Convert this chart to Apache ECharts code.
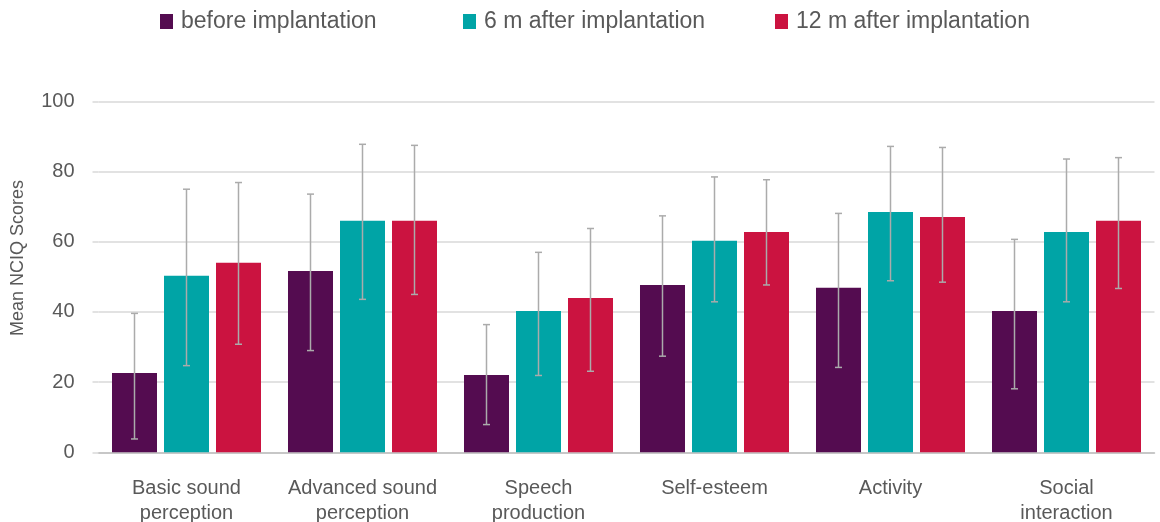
<!DOCTYPE html>
<html>
<head>
<meta charset="utf-8">
<script src="https://cdn.jsdelivr.net/npm/echarts@6/dist/echarts.min.js"></script>
<style>
  html, body { margin: 0; padding: 0; background: #fff; }
  #chart { width: 1160px; height: 522px; }
</style>
</head>
<body>
<div id="chart"></div>
<script>
// NCIQ domains
const categories = [
  'Basic sound\nperception',
  'Advanced sound\nperception',
  'Speech\nproduction',
  'Self-esteem',
  'Activity',
  'Social\ninteraction'
];
const seriesNames = ['before implantation', '6 m after implantation', '12 m after implantation'];
const seriesColors = ['#540C50', '#00A4A6', '#CB1340'];

// Mean scores
const before = [22.6, 51.7, 22.0, 47.7, 46.9, 40.3];
const after6 = [50.3, 66.0, 40.3, 60.3, 68.5, 62.8];
const after12 = [54.0, 66.0, 44.0, 62.8, 67.1, 66.0];

// Error bar bounds (lower / upper)
const beforeLow = [3.8, 29.0, 7.9, 27.4, 24.2, 18.1];
const beforeHigh = [39.6, 73.6, 36.4, 67.4, 68.1, 60.7];
const after6Low = [24.7, 43.6, 21.9, 42.9, 48.9, 42.9];
const after6High = [75.0, 87.8, 57.0, 78.5, 87.2, 83.6];
const after12Low = [30.8, 45.0, 23.1, 47.7, 48.5, 46.7];
const after12High = [76.9, 87.5, 63.8, 77.7, 86.9, 84.0];

// Y axis ticks
const yTicks = [0, 20, 40, 60, 80, 100];

const BAR_W = 45;
const BAR_GAP = 7;
const TEXT = '#595959';
const FONT = 'Liberation Sans, Arial, sans-serif';

const means = [before, after6, after12];
const lows = [beforeLow, after6Low, after12Low];
const highs = [beforeHigh, after6High, after12High];

const barSeries = means.map((vals, i) => ({
  name: seriesNames[i],
  type: 'bar',
  data: vals,
  barWidth: BAR_W,
  barGap: (BAR_GAP / BAR_W * 100).toFixed(2) + '%',
  itemStyle: { color: seriesColors[i] },
  z: 2
}));

const errSeries = means.map((vals, i) => ({
  name: seriesNames[i] + ' sd',
  type: 'custom',
  z: 5,
  silent: true,
  data: vals.map((v, j) => [j, lows[i][j], highs[i][j]]),
  renderItem: function (params, api) {
    const off = (i - 1) * (BAR_W + BAR_GAP);
    const lo = api.coord([api.value(0), api.value(1)]);
    const hi = api.coord([api.value(0), api.value(2)]);
    const x = lo[0] + off;
    const cap = 3.5;
    const style = { stroke: '#ABABAB', lineWidth: 1.5, fill: null };
    return {
      type: 'group',
      children: [
        { type: 'line', shape: { x1: x, y1: lo[1], x2: x, y2: hi[1] }, style: style },
        { type: 'line', shape: { x1: x - cap, y1: lo[1], x2: x + cap, y2: lo[1] }, style: style },
        { type: 'line', shape: { x1: x - cap, y1: hi[1], x2: x + cap, y2: hi[1] }, style: style }
      ]
    };
  }
}));

const legendLefts = [160, 463, 775];
const legends = seriesNames.map((n, i) => ({
  data: [n],
  left: legendLefts[i],
  top: 10,
  padding: 0,
  itemWidth: 13,
  itemHeight: 15,
  itemGap: 8,
  icon: 'rect',
  textStyle: { color: TEXT, fontSize: 23, fontFamily: FONT, padding: [0, 0, 0, 3] },
  selectedMode: false
}));

const chart = echarts.init(document.getElementById('chart'), null, { renderer: 'canvas' });
chart.setOption({
  animation: false,
  legend: legends,
  grid: {
    left: 98.5, right: 5.5, top: 101.5, bottom: 69.7,
    containLabel: false,
    outerBoundsMode: 'none'
  },
  graphic: [{
    type: 'text',
    left: 9,
    top: 180,
    rotation: Math.PI / 2,
    style: {
      text: 'Mean NCIQ Scores',
      fill: TEXT,
      font: '18px ' + FONT
    }
  }],
  xAxis: {
    type: 'category',
    data: categories,
    axisLine: { show: true, lineStyle: { color: '#BFBFBF', width: 1.5 } },
    axisTick: { show: false },
    axisLabel: {
      color: TEXT,
      fontSize: 20,
      fontFamily: FONT,
      lineHeight: 25,
      margin: 24,
      interval: 0,
      verticalAlign: 'top'
    }
  },
  yAxis: {
    type: 'value',
    min: yTicks[0],
    max: yTicks[yTicks.length - 1],
    interval: yTicks[1] - yTicks[0],
    axisLine: { show: false },
    axisTick: { show: true, length: 6, lineStyle: { color: '#D9D9D9', width: 1.5 } },
    splitLine: { lineStyle: { color: '#D9D9D9', width: 1.5 } },
    axisLabel: { color: TEXT, fontSize: 20, fontFamily: FONT, margin: 24 }
  },
  series: barSeries.concat(errSeries)
});
</script>
</body>
</html>
